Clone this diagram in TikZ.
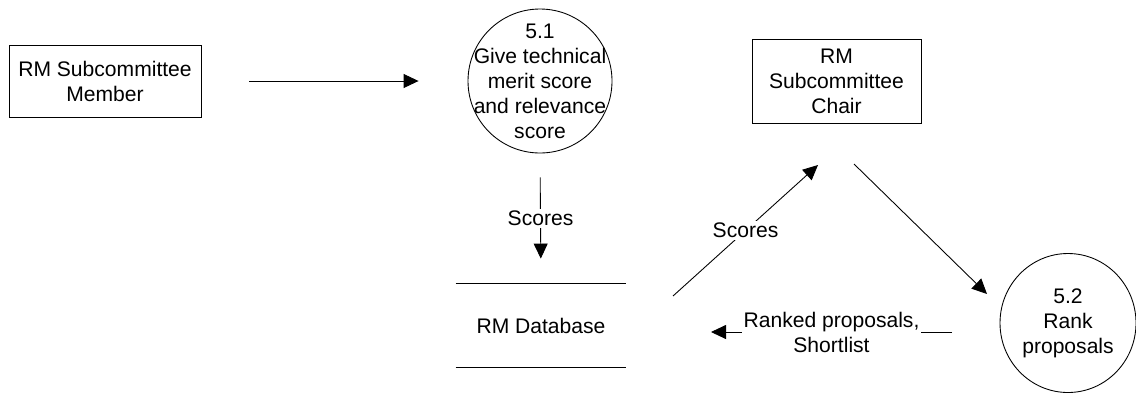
\documentclass[tikz,border=0pt]{standalone}
\usepackage{fontspec}
\setmainfont{Liberation Sans}
\usetikzlibrary{arrows.meta,shapes.geometric}

\begin{document}
\begin{tikzpicture}[
  font=\fontsize{12pt}{14.2pt}\selectfont,
  line width=0.5pt,
  entity/.style={draw,rectangle,align=center,inner sep=0pt},
  proc/.style={draw,circle,minimum size=2.88cm,inner sep=0pt},
  flow/.style={-{Triangle[length=0.3cm,width=0.28cm]}},
  flowlabel/.style={fill=white,align=center,inner sep=1pt}
]
\useasboundingbox (0,0) rectangle (22.72,-7.9);

% Entidades externas
\node[entity,minimum width=3.84cm,minimum height=1.44cm] (member) at (2.1,-1.62) {RM Subcommittee\\Member};
\node[entity,minimum width=3.38cm,minimum height=1.68cm] (chair) at (16.73,-1.62) {RM\\Subcommittee\\Chair};

% Processos
\node[proc,label={[align=center]center:5.1\\Give technical\\merit score\\and relevance\\score}] (p51) at (10.8,-1.62) {};
\node[draw,ellipse,minimum width=2.72cm,minimum height=2.78cm,inner sep=0pt,align=center] (p52) at (21.36,-6.46) {5.2\\Rank\\proposals};

% Deposito de dados
\node[minimum width=3.4cm,minimum height=1.66cm] (db) at (10.82,-6.51) {RM Database};
\draw (db.north west) -- (db.north east);
\draw (db.south west) -- (db.south east);

% Pontas livres dos fluxos
\coordinate (scoresA) at (13.46,-5.92);
\coordinate (scoresB) at (16.36,-3.3);
\coordinate (rankA) at (17.08,-3.28);
\coordinate (rankB) at (19.74,-5.88);
\coordinate (listA) at (19.04,-6.64);
\coordinate (listB) at (14.22,-6.64);

% Fluxos
\draw[flow,shorten <=0.96cm,shorten >=0.98cm] (member) -- (p51);
\draw[flow,shorten <=0.48cm,shorten >=0.5cm] (p51.south) -- node[flowlabel] (lblA) {Scores} (db.north);
\draw[flow] (scoresA) -- node[flowlabel] (lblB) {Scores} (scoresB);
\draw[flow] (rankA) -- (rankB);
\draw[flow] (listA) -- node[flowlabel] (lblC) {Ranked proposals,\\Shortlist} (listB);

\end{tikzpicture}
\end{document}
